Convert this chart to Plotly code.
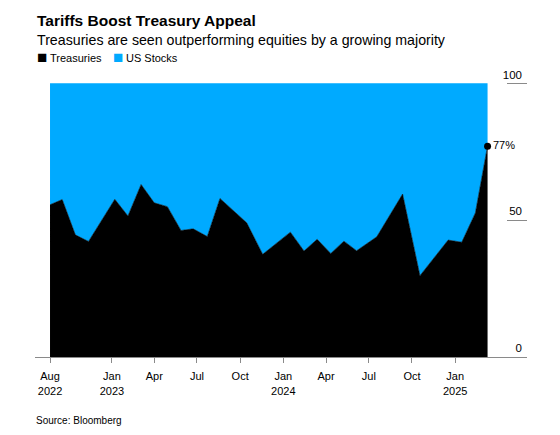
import plotly.graph_objects as go

# ---- Data ----
dates = ["2022-08-22", "2022-09-17", "2022-10-15", "2022-11-12", "2023-01-07",
         "2023-02-04", "2023-03-04", "2023-04-01", "2023-04-29", "2023-05-28",
         "2023-06-23", "2023-07-23", "2023-08-19", "2023-09-16", "2023-10-15",
         "2023-11-18", "2024-01-16", "2024-02-14", "2024-03-13", "2024-04-11",
         "2024-05-09", "2024-06-05", "2024-07-18", "2024-09-11", "2024-10-18",
         "2024-12-17", "2025-01-15", "2025-02-13", "2025-03-11"]
treasuries = [55.6, 57.5, 44.6, 42.2, 57.6, 51.5, 63.0, 56.3, 54.9, 46.2,
              46.8, 44.0, 57.9, 53.5, 49.0, 37.5, 45.6, 38.7, 43.0, 37.8,
              42.3, 38.8, 43.9, 59.5, 29.7, 42.7, 41.9, 52.6, 77.0]
us_stocks = [44.4, 42.5, 55.4, 57.8, 42.4, 48.5, 37.0, 43.7, 45.1, 53.8,
             53.2, 56.0, 42.1, 46.5, 51.0, 62.5, 54.4, 61.3, 57.0, 62.2,
             57.7, 61.2, 56.1, 40.5, 70.3, 57.3, 58.1, 47.4, 23.0]

x_tickvals = ["2022-08-22", "2023-01-01", "2023-04-01", "2023-07-01", "2023-10-01",
              "2024-01-01", "2024-04-01", "2024-07-01", "2024-10-01", "2025-01-01"]
x_ticktext = ["Aug<br>2022", "Jan<br>2023", "Apr", "Jul", "Oct",
              "Jan<br>2024", "Apr", "Jul", "Oct", "Jan<br>2025"]
y_tickvals = [0, 50, 100]

title = "Tariffs Boost Treasury Appeal"
subtitle = "Treasuries are seen outperforming equities by a growing majority"
source = "Source: Bloomberg"
series_names = ["Treasuries", "US Stocks"]
colors = ["#000000", "#00AAFF"]

FONT = "Liberation Sans, Arial, Helvetica, sans-serif"

# ---- Layout geometry (pixels) ----
W, H = 560, 435
ML, MR, MT, MB = 35, 33, 63.5, 78
PW = W - ML - MR
PH = H - MT - MB


def px(xp):
    return (xp - ML) / PW


def py(yp):
    return (H - MB - yp) / PH


fig = go.Figure()
fig.add_trace(go.Scatter(
    x=dates, y=treasuries, name=series_names[0], mode="lines",
    stackgroup="one", line=dict(width=0.6, color=colors[0]),
    fillcolor=colors[0], showlegend=False, hoverinfo="skip"))
fig.add_trace(go.Scatter(
    x=dates, y=us_stocks, name=series_names[1], mode="lines",
    stackgroup="one", line=dict(width=0, color=colors[1]),
    fillcolor=colors[1], showlegend=False, hoverinfo="skip"))
# end-point marker + label
fig.add_trace(go.Scatter(
    x=[dates[-1]], y=[treasuries[-1]], mode="markers+text",
    marker=dict(size=7, color="#000000"),
    text=[f"{treasuries[-1]:.0f}%"], textposition="middle right",
    textfont=dict(family=FONT, size=11, color="#000000"),
    cliponaxis=False, showlegend=False, hoverinfo="skip"))

annotations = [
    dict(text=f"<b>{title}</b>", x=px(35), y=py(20), xref="paper", yref="paper",
         xanchor="left", yanchor="middle", showarrow=False,
         font=dict(family=FONT, size=15.5, color="#000000")),
    dict(text=subtitle, x=px(35), y=py(39), xref="paper", yref="paper",
         xanchor="left", yanchor="middle", showarrow=False,
         font=dict(family=FONT, size=14.2, color="#000000")),
    # legend
    dict(text="■", x=px(34.5), y=py(56.5), xref="paper", yref="paper",
         xanchor="left", yanchor="middle", showarrow=False,
         font=dict(family=FONT, size=17, color=colors[0])),
    dict(text=series_names[0], x=px(47.5), y=py(57.5), xref="paper", yref="paper",
         xanchor="left", yanchor="middle", showarrow=False,
         font=dict(family=FONT, size=11, color="#000000")),
    dict(text="■", x=px(110.5), y=py(56.5), xref="paper", yref="paper",
         xanchor="left", yanchor="middle", showarrow=False,
         font=dict(family=FONT, size=17, color=colors[1])),
    dict(text=series_names[1], x=px(123.5), y=py(57.5), xref="paper", yref="paper",
         xanchor="left", yanchor="middle", showarrow=False,
         font=dict(family=FONT, size=11, color="#000000")),
    dict(text=source, x=px(34), y=py(421), xref="paper", yref="paper",
         xanchor="left", yanchor="middle", showarrow=False,
         font=dict(family=FONT, size=10, color="#000000")),
]

fig.update_layout(
    width=W, height=H,
    margin=dict(l=ML, r=MR, t=MT, b=MB, pad=0),
    paper_bgcolor="#ffffff", plot_bgcolor="#ffffff",
    font=dict(family=FONT, size=11, color="#000000"),
    hovermode=False,
    showlegend=False,
    annotations=annotations,
    xaxis=dict(
        type="date", range=["2022-07-21", "2025-06-03"],
        tickmode="array", tickvals=x_tickvals, ticktext=x_ticktext,
        showgrid=False, zeroline=False,
        showline=True, linecolor="#8a8a8a", linewidth=1,
        ticks="outside", ticklen=5, tickcolor="#8a8a8a", tickwidth=1,
        ticklabelstandoff=4,
        tickfont=dict(family=FONT, size=11, color="#000000"),
        fixedrange=True,
    ),
    yaxis=dict(
        range=[0, 107], side="right",
        tickmode="array", tickvals=y_tickvals,
        showgrid=False, zeroline=False, showline=False,
        ticks="inside", ticklen=20, tickcolor="#8a8a8a", tickwidth=1.2,
        ticklabelposition="inside top", ticklabelstandoff=2,
        tickfont=dict(family=FONT, size=11.5, color="#000000"),
        fixedrange=True,
    ),
)

fig.write_html("out.html", config={"displayModeBar": False},
               post_script="document.body.style.margin='0';")
